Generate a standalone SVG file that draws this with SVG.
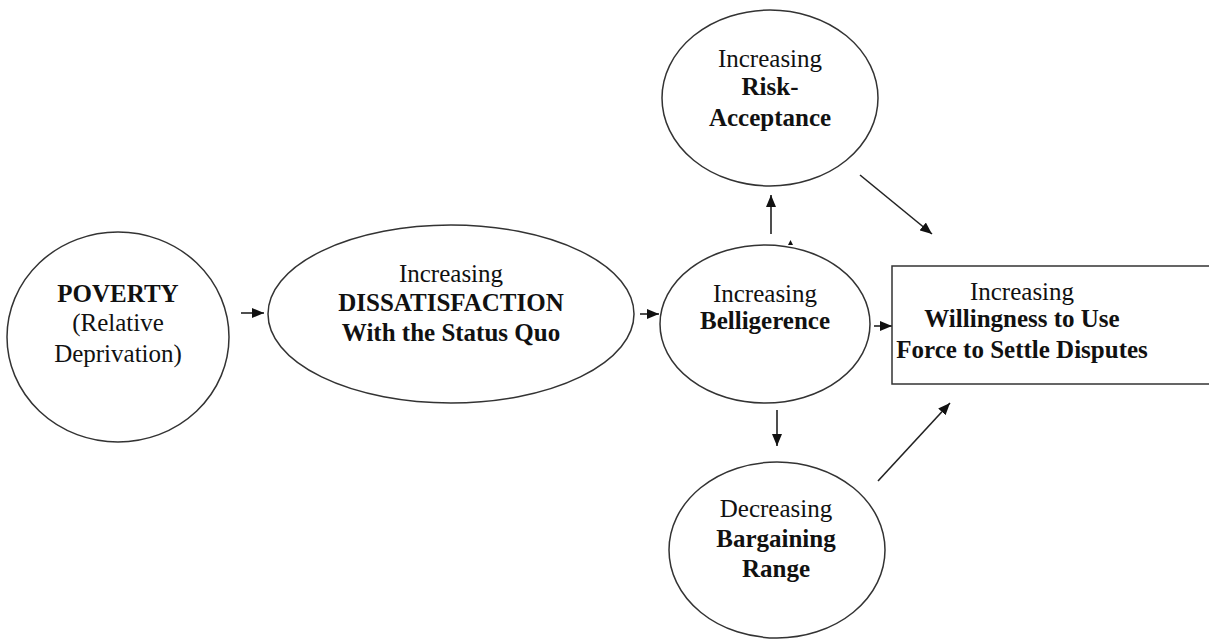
<svg xmlns="http://www.w3.org/2000/svg" width="1209" height="640" viewBox="0 0 1209 640">
<style>
.node{fill:#fff;stroke:#333;stroke-width:1.5}
.t{font-family:"Liberation Serif","Times New Roman","DejaVu Serif",serif;font-size:25px;fill:#111;text-anchor:middle}
.b{font-weight:bold}
.c{stroke:#222;stroke-width:1.6;fill:none}
</style>
<defs>
<marker id="ah" markerUnits="userSpaceOnUse" markerWidth="12" markerHeight="10" refX="12" refY="5" orient="auto">
<path d="M0,0 L12,5 L0,10 Z" fill="#111"/>
</marker>
</defs>
<rect width="1209" height="640" fill="#fff"/>
<g id="connectors">
<line class="c" x1="241" y1="313" x2="264" y2="313" marker-end="url(#ah)"/>
<line class="c" x1="640" y1="314" x2="659" y2="314" marker-end="url(#ah)"/>
<line class="c" x1="874" y1="326" x2="892" y2="326" marker-end="url(#ah)"/>
<line class="c" x1="771" y1="234" x2="771" y2="195" marker-end="url(#ah)"/>
<line class="c" x1="777" y1="410" x2="777" y2="446" marker-end="url(#ah)"/>
<line class="c" x1="860" y1="175" x2="932" y2="234" marker-end="url(#ah)"/>
<line class="c" x1="878" y1="481" x2="950" y2="403" marker-end="url(#ah)"/>
</g>
<g id="poverty">
<ellipse class="node" cx="118" cy="337" rx="111" ry="105"/>
<text class="t b" x="118" y="302">POVERTY</text>
<text class="t" x="118" y="331">(Relative</text>
<text class="t" x="118" y="362">Deprivation)</text>
</g>
<g id="dissatisfaction">
<ellipse class="node" cx="451" cy="314" rx="183" ry="89"/>
<text class="t" x="451" y="282">Increasing</text>
<text class="t b" x="451" y="311">DISSATISFACTION</text>
<text class="t b" x="451" y="341">With the Status Quo</text>
</g>
<g id="belligerence">
<ellipse class="node" cx="765" cy="324" rx="105" ry="79"/>
<text class="t" x="765" y="302">Increasing</text>
<text class="t b" x="765" y="329">Belligerence</text>
<path d="M788,245 L790.5,240 L793,245 Z" fill="#111"/>
</g>
<g id="risk">
<ellipse class="node" cx="770" cy="98" rx="108" ry="88"/>
<text class="t" x="770" y="67">Increasing</text>
<text class="t b" x="770" y="95">Risk-</text>
<text class="t b" x="770" y="126">Acceptance</text>
</g>
<g id="bargaining">
<ellipse class="node" cx="777" cy="550" rx="108" ry="88"/>
<text class="t" x="776" y="517">Decreasing</text>
<text class="t b" x="776" y="547">Bargaining</text>
<text class="t b" x="776" y="577">Range</text>
</g>
<g id="willingness">
<rect class="node" x="892" y="266" width="330" height="118"/>
<text class="t" x="1022" y="300">Increasing</text>
<text class="t b" x="1022" y="327">Willingness to Use</text>
<text class="t b" x="1022" y="358">Force to Settle Disputes</text>
</g>
</svg>
